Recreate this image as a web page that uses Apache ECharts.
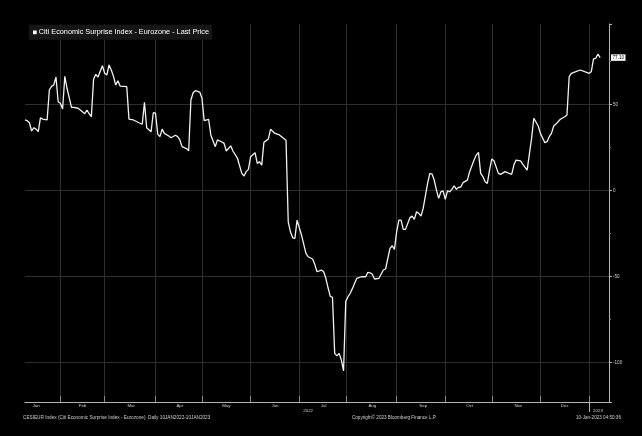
<!DOCTYPE html>
<html><head><meta charset="utf-8">
<script src="https://cdn.jsdelivr.net/npm/echarts@6/dist/echarts.min.js"></script>
<style>html,body{margin:0;padding:0;background:#000;}#c{width:642px;height:436px;}</style>
</head><body><div id="c"></div>
<script>
// ---- data ----
const seriesName = 'Citi Economic Surprise Index - Eurozone - Last Price';
// trading-day number counted from 2022-01-10 (weekdays only)
const days = [0,1,2,3,4,5,6,7,8,10,11,12,13,14,15,16,17,18,19,21,22,24,25,27,28,29,30,31,32,33,35,36,37,38,39,40,41,42,43,46,47,49,52,53,54,55,57,58,59,60,61,62,63,65,66,68,69,70,71,73,74,75,76,77,79,80,81,83,84,86,87,89,90,91,93,94,96,98,99,100,101,102,104,105,106,107,108,110,111,113,115,118,119,120,121,122,123,125,127,128,130,131,132,134,135,136,137,138,139,140,141,142,143,144,145,146,147,148,149,150,152,154,155,156,157,158,160,162,163,165,166,167,168,169,170,171,172,174,175,176,177,178,179,180,182,183,184,185,186,187,188,189,190,191,192,193,194,195,196,197,198,200,201,203,204,205,206,207,208,209,210,211,212,214,215,217,218,220,221,222,224,225,227,229,230,232,233,235,236,237,238,239,240,242,244,245,246,247,249,251,253,255,256,257,258,259,260];
const values = [41.0,40.5,39.3,34.5,36.4,35.6,34.1,42.2,41.4,40.9,58.3,60.4,61.2,65.8,51.5,50.6,47.3,66.2,59.3,48.2,48.2,47.7,46.7,44.5,46.7,44.5,42.8,64.5,67.4,65.8,72.4,68.0,67.0,72.8,69.9,66.2,61.2,63.7,60.6,60.2,41.4,40.9,39.0,38.4,51.1,36.4,34.1,45.1,44.8,32.7,31.2,35.6,33.1,31.6,30.6,32.0,31.2,29.3,25.4,24.3,23.0,52.5,56.7,57.9,57.1,53.5,40.5,41.3,32.2,25.4,29.3,28.1,27.3,22.9,25.9,22.9,18.8,9.9,8.4,10.9,12.2,19.6,21.9,15.7,16.7,14.6,27.9,29.8,35.5,33.1,32.2,29.1,-18.2,-24.0,-27.5,-27.8,-17.2,-25.9,-36.5,-38.5,-39.8,-42.9,-47.2,-46.2,-47.2,-51.0,-56.5,-61.5,-62.0,-94.6,-96.0,-94.6,-98.4,-104.8,-64.4,-61.7,-59.7,-57.0,-53.9,-51.0,-50.1,-50.1,-47.5,-47.8,-48.7,-51.4,-51.0,-46.2,-45.6,-33.6,-32.1,-34.2,-24.0,-17.2,-17.2,-22.6,-22.6,-15.8,-14.9,-16.8,-12.4,-13.3,-14.9,-10.4,4.1,9.9,9.5,6.0,0.2,-4.6,-0.8,-0.3,-5.2,-0.2,-0.8,0.6,2.7,0.6,1.8,2.0,4.5,6.0,10.9,17.6,20.5,22.1,9.9,8.0,5.1,4.1,11.8,18.2,17.2,9.9,9.3,10.9,10.3,9.3,14.7,17.6,17.2,15.3,11.8,30.2,41.9,37.4,33.1,27.7,28.3,31.2,33.1,37.4,38.5,41.3,42.8,43.8,66.0,68.0,68.9,69.9,68.9,68.0,68.9,76.3,76.7,79.2,77.1];
const monthNames = ['Jan','Feb','Mar','Apr','May','Jun','Jul','Aug','Sep','Oct','Nov','Dec'];
const monthLabelDates = ['2022-01-17','2022-02-15','2022-03-17','2022-04-18','2022-05-17','2022-06-16','2022-07-18','2022-08-17','2022-09-19','2022-10-18','2022-11-17','2022-12-16'];
const yearLabelDates = ['2022-07-07','2023-01-06'];
const yearLabels = ['2022','2023'];
const footerLeft = 'CESIEUR Index (Citi Economic Surprise Index - Eurozone)  Daily 10JAN2022-10JAN2023';
const footerMid = 'Copyright\u00a9 2023 Bloomberg Finance L.P.';
const footerRight = '10-Jan-2023 04:50:36';

// ---- axis categories: weekdays ----
const categories = [];
for (let t = Date.UTC(2022,0,10); t <= Date.UTC(2023,0,13); t += 86400000) {
  const d = new Date(t); const wd = d.getUTCDay();
  if (wd === 0 || wd === 6) continue;
  categories.push(d.toISOString().slice(0,10));
}
const monthStart = new Set();
categories.forEach((c,i)=>{ if (i>0 && c.slice(5,7)!==categories[i-1].slice(5,7)) monthStart.add(i); });
const yearStart = new Set();
categories.forEach((c,i)=>{ if (i>0 && c.slice(0,4)!==categories[i-1].slice(0,4)) yearStart.add(i); });
const monthLabelSet = new Set(monthLabelDates);
const yearLabelMap = {}; yearLabelDates.forEach((d,i)=>yearLabelMap[d]=yearLabels[i]);

const data = days.map((d,i)=>[categories[d], values[i]]);
const lastValue = values[values.length-1];

const FONT = 'Liberation Sans';
const GRID = '#2e2e2e';
const chart = echarts.init(document.getElementById('c'), null, {renderer:'canvas'});
chart.setOption({
  backgroundColor:'#000',
  animation:false,
  title:[
    {text:'{sq| }{t|'+seriesName+'}', left:29, top:24, padding:[4,3,4,4], backgroundColor:'#161616',
     textStyle:{fontWeight:'normal',rich:{sq:{width:3.7,height:3.7,backgroundColor:'#fff',fontSize:4},
       t:{fontSize:7.3,color:'#fff',fontWeight:'normal',fontFamily:FONT,padding:[0,0,0,2],lineHeight:8.7}}}},
    {text:footerLeft, left:23, top:415, padding:0, textStyle:{fontSize:4.7,fontWeight:'normal',color:'#cfcfcf',fontFamily:FONT}},
    {text:footerMid, left:352, top:415, padding:0, textStyle:{fontSize:4.6,fontWeight:'normal',color:'#cfcfcf',fontFamily:FONT}},
    {text:footerRight, left:576, top:415, padding:0, textStyle:{fontSize:4.6,fontWeight:'normal',color:'#cfcfcf',fontFamily:FONT}}
  ],
  grid:{left:25, right:33, top:24, bottom:34, containLabel:false},
  xAxis:[
    {type:'category', data:categories, boundaryGap:false, position:'bottom',
     axisLine:{show:true,onZero:false,lineStyle:{color:'#b4b4b4',width:1}},
     axisTick:{show:true,inside:true,length:6,interval:(i)=>monthStart.has(i),lineStyle:{color:'#8a8a8a'}},
     splitLine:{show:true,interval:(i)=>monthStart.has(i),lineStyle:{color:GRID,width:1}},
     axisLabel:{interval:(i,v)=>monthLabelSet.has(v),formatter:(v)=>monthNames[+v.slice(5,7)-1],
       color:'#d0d0d0',fontSize:4.4,margin:2,fontFamily:FONT}},
    {type:'category', data:categories, boundaryGap:false, position:'bottom',
     axisLine:{show:false,onZero:false},
     axisTick:{show:true,inside:false,length:10,interval:(i)=>yearStart.has(i),lineStyle:{color:'#b4b4b4'}},
     splitLine:{show:false},
     axisLabel:{interval:(i,v)=>v in yearLabelMap,formatter:(v)=>yearLabelMap[v]||'',
       color:'#d0d0d0',fontSize:4.4,margin:7,fontFamily:FONT}}
  ],
  yAxis:{type:'value', position:'right', min:-122.8, max:96.6, splitNumber:4,
    axisLine:{show:true,lineStyle:{color:'#b4b4b4',width:1}},
    axisTick:{show:true,length:3,lineStyle:{color:'#b4b4b4'}},
    minorTick:{show:true,splitNumber:2,length:2,lineStyle:{color:'#888'}},
    axisLabel:{color:'#d0d0d0',fontSize:4.6,margin:4,showMinLabel:false,showMaxLabel:false,fontFamily:FONT},
    splitLine:{show:true,showMinLine:false,showMaxLine:false,lineStyle:{color:GRID,width:1}}
  },
  series:[{name:seriesName, type:'line', xAxisIndex:0, yAxisIndex:0, data:data,
    symbol:'none', showSymbol:false, lineStyle:{color:'#f2f2f2',width:1.3},
    markLine:{symbol:'none', silent:true, animation:false, lineStyle:{color:'rgba(0,0,0,0)',width:0.01,opacity:1},
      label:{show:true,position:'end',distance:2,formatter:lastValue.toFixed(2),backgroundColor:'#ffffff',color:'#000000',
        opacity:1,fontSize:4.6,padding:[1,1.5,0.5,1.5],fontFamily:FONT},
      data:[{yAxis:lastValue}]}
  }]
});
</script></body></html>
